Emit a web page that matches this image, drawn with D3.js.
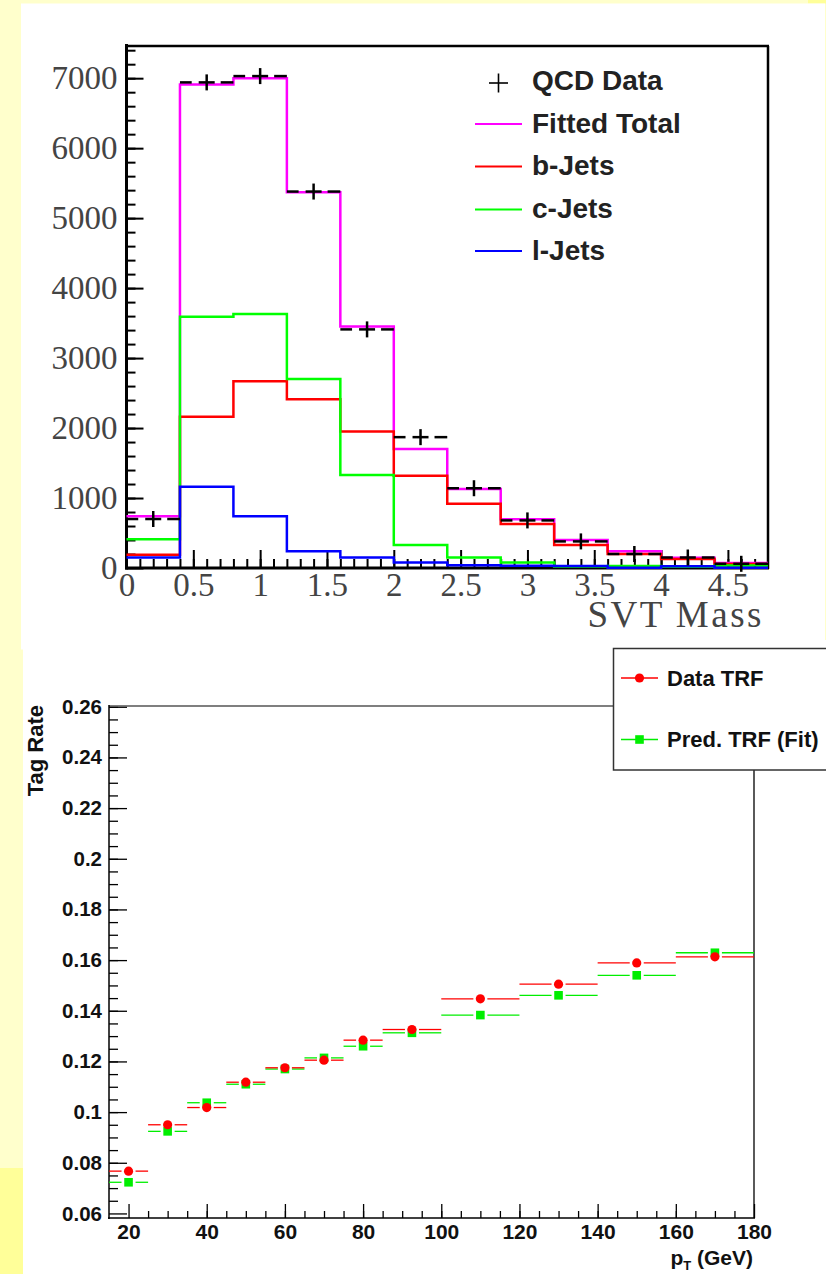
<!DOCTYPE html>
<html>
<head>
<meta charset="utf-8">
<script src="https://cdn.jsdelivr.net/npm/d3@7"></script>
<style>
body { margin: 0; background: #ffffcc; }
svg { display: block; }
</style>
</head>
<body>
<svg width="826" height="1274"></svg>
<script>
// ---- top: SVT mass template fit ----
var massEdges = [0, 0.4, 0.8, 1.2, 1.6, 2.0, 2.4, 2.8, 3.2, 3.6, 4.0, 4.4, 4.8];
var qcdData   = [700, 6940, 7030, 5380, 3410, 1870, 1140, 680, 380, 200, 150, 60];
var fitTotal  = [740, 6910, 7000, 5370, 3450, 1700, 1130, 695, 400, 238, 147, 71];
var bJets     = [190, 2160, 2670, 2410, 1950, 1320, 920, 630, 330, 200, 129, 57];
var cJets     = [410, 3590, 3630, 2700, 1330, 330, 150, 80, 20, 30, 18, 35];
var lJets     = [150, 1160, 740, 240, 150, 80, 40, 33, 30, 5, 25, 5];
var massTicks  = [0, 0.5, 1, 1.5, 2, 2.5, 3, 3.5, 4, 4.5];
var countTicks = [0, 1000, 2000, 3000, 4000, 5000, 6000, 7000];
var histLabels = ["Fitted Total", "b-Jets", "c-Jets", "l-Jets"];
var histColors = ["#ff00ff", "#ff0000", "#00ff00", "#0000ff"];

// ---- bottom: tag rate vs pT ----
var ptEdges   = [15, 25, 35, 45, 55, 65, 75, 85, 100, 120, 140, 160, 180];
var ptCenters = [20, 30, 40, 50, 60, 70, 80, 92.5, 110, 130, 150, 170];
var dataTRF   = [0.0767, 0.0950, 0.1018, 0.1118, 0.1175, 0.1205, 0.1284, 0.1326, 0.1447, 0.1505, 0.1589, 0.1613];
var predTRF   = [0.0723, 0.0924, 0.1037, 0.1110, 0.1170, 0.1214, 0.1260, 0.1313, 0.1383, 0.1461, 0.1540, 0.1629];
var ptTicks   = [20, 40, 60, 80, 100, 120, 140, 160, 180];
var rateTicks = [0.06, 0.08, 0.1, 0.12, 0.14, 0.16, 0.18, 0.2, 0.22, 0.24, 0.26];

var svg = d3.select("svg");
var plain = d3.format("");

// backgrounds
svg.append("rect").attr("width", 826).attr("height", 1274).attr("fill", "#ffffcc");
svg.append("rect").attr("x", 808).attr("y", 0).attr("width", 18).attr("height", 3.5).attr("fill", "#ffff99");
svg.append("rect").attr("x", 0).attr("y", 1168).attr("width", 23).attr("height", 106).attr("fill", "#ffff99");
svg.append("rect").attr("x", 21).attr("y", 3.5).attr("width", 804).attr("height", 646).attr("fill", "#fff");
svg.append("rect").attr("x", 23).attr("y", 640).attr("width", 803).attr("height", 634).attr("fill", "#fff");

// =================== top panel ===================
var x1 = d3.scaleLinear().domain([0, 4.8]).range([126.5, 768]);
var y1 = d3.scaleLinear().domain([0, 7460]).range([568, 46]);

var topG = svg.append("g").attr("class", "top");

function styleAxis(g, col, w) {
    g.select(".domain").remove();
    g.selectAll(".tick line").attr("stroke", col).attr("stroke-width", w);
}

var serif = "'Liberation Serif', 'DejaVu Serif', serif";

var xMinor1 = topG.append("g").attr("transform", "translate(0,568)")
    .call(d3.axisBottom(x1).tickValues(d3.range(1, 48).map(function(i) { return i / 10; }))
        .tickSize(-9).tickFormat(""));
styleAxis(xMinor1, "#000", 2);
var xAxis1 = topG.append("g").attr("transform", "translate(0,568)")
    .call(d3.axisBottom(x1).tickValues(massTicks).tickSize(-18).tickPadding(5).tickFormat(plain));
styleAxis(xAxis1, "#000", 2);
xAxis1.selectAll("text").attr("font-family", serif).attr("font-size", 33).attr("fill", "#444");

var yMinor1 = topG.append("g").attr("transform", "translate(126.5,0)")
    .call(d3.axisLeft(y1).tickValues(d3.range(200, 7460, 200)).tickSize(-9).tickFormat(""));
styleAxis(yMinor1, "#000", 2);
var yAxis1 = topG.append("g").attr("transform", "translate(126.5,0)")
    .call(d3.axisLeft(y1).tickValues(countTicks).tickSize(-17).tickPadding(9).tickFormat(plain));
styleAxis(yAxis1, "#000", 2);
yAxis1.selectAll("text").attr("font-family", serif).attr("font-size", 33).attr("fill", "#444");

// frame
topG.append("line").attr("x1", 126.5).attr("x2", 769).attr("y1", 46).attr("y2", 46)
    .attr("stroke", "#000").attr("stroke-width", 2.5);
topG.append("line").attr("x1", 768).attr("x2", 768).attr("y1", 46).attr("y2", 569)
    .attr("stroke", "#000").attr("stroke-width", 2.5);
topG.append("line").attr("x1", 126.5).attr("x2", 126.5).attr("y1", 44).attr("y2", 569.5)
    .attr("stroke", "#000").attr("stroke-width", 3);
topG.append("line").attr("x1", 125).attr("x2", 769).attr("y1", 568).attr("y2", 568)
    .attr("stroke", "#000").attr("stroke-width", 3);

// histograms
var step = d3.line().curve(d3.curveStepAfter)
    .x(function(d) { return x1(d[0]); })
    .y(function(d) { return y1(d[1]); });

[fitTotal, bJets, cJets, lJets].forEach(function(vals, k) {
    var pts = massEdges.map(function(e, i) { return [e, vals[Math.min(i, vals.length - 1)]]; });
    topG.append("path").attr("d", step(pts))
        .attr("fill", "none").attr("stroke", histColors[k]).attr("stroke-width", 2.5);
});

// data points
var dataG = topG.append("g").attr("stroke", "#000").attr("stroke-width", 2.5);
qcdData.forEach(function(v, i) {
    var xa = x1(massEdges[i]), xb = x1(massEdges[i + 1]);
    var cx = (xa + xb) / 2, cy = y1(v);
    dataG.append("line").attr("x1", xa).attr("x2", cx - 15).attr("y1", cy).attr("y2", cy);
    dataG.append("line").attr("x1", cx + 14).attr("x2", xb).attr("y1", cy).attr("y2", cy);
    dataG.append("line").attr("x1", cx - 8).attr("x2", cx + 8).attr("y1", cy).attr("y2", cy);
    dataG.append("line").attr("x1", cx).attr("x2", cx).attr("y1", cy - 8).attr("y2", cy + 8);
});

// legend
var sans = "'Liberation Sans', Arial, sans-serif";
var leg1 = topG.append("g").attr("font-family", sans).attr("font-weight", "bold")
    .attr("font-size", 28).attr("fill", "#222");
leg1.append("line").attr("x1", 489).attr("x2", 508).attr("y1", 83).attr("y2", 83)
    .attr("stroke", "#000").attr("stroke-width", 1.6);
leg1.append("line").attr("x1", 498.5).attr("x2", 498.5).attr("y1", 73.5).attr("y2", 92.5)
    .attr("stroke", "#000").attr("stroke-width", 1.6);
leg1.append("text").attr("x", 532).attr("y", 80).attr("dy", "0.35em").text("QCD Data");
var legRows = [124, 166.5, 209.5, 251];
histLabels.forEach(function(lab, k) {
    leg1.append("line").attr("x1", 475).attr("x2", 522).attr("y1", legRows[k]).attr("y2", legRows[k])
        .attr("stroke", histColors[k]).attr("stroke-width", 2);
    leg1.append("text").attr("x", 532).attr("y", legRows[k] - 1).attr("dy", "0.35em").text(lab);
});

topG.append("text").attr("x", 764).attr("y", 627).attr("text-anchor", "end")
    .attr("font-family", serif).attr("font-size", 37).attr("letter-spacing", 2.5)
    .attr("fill", "#444").text("SVT Mass");

// =================== bottom panel ===================
var x2 = d3.scaleLinear().domain([15, 180]).range([109, 754]);
var y2 = d3.scaleLinear().domain([0.0582, 0.2603]).range([1218, 706]);

var bot = svg.append("g").attr("class", "bottom");

var xMinor2 = bot.append("g").attr("transform", "translate(0,1218)")
    .call(d3.axisBottom(x2).tickValues(d3.range(25, 180, 5)).tickSize(-7).tickFormat(""));
styleAxis(xMinor2, "#000", 1.3);
var xAxis2 = bot.append("g").attr("transform", "translate(0,1218)")
    .call(d3.axisBottom(x2).tickValues(ptTicks).tickSize(-14).tickPadding(6).tickFormat(plain));
styleAxis(xAxis2, "#000", 1.3);
xAxis2.selectAll("text").attr("font-family", sans).attr("font-weight", "bold")
    .attr("font-size", 21).attr("fill", "#111");

var yMinor2 = bot.append("g").attr("transform", "translate(109,0)")
    .call(d3.axisLeft(y2).tickValues(d3.range(13, 53).map(function(i) { return i * 0.005; }))
        .tickSize(-9).tickFormat(""));
styleAxis(yMinor2, "#000", 1.3);
var yAxis2 = bot.append("g").attr("transform", "translate(109,0)")
    .call(d3.axisLeft(y2).tickValues(rateTicks).tickSize(-18).tickPadding(7).tickFormat(plain));
styleAxis(yAxis2, "#000", 1.3);
yAxis2.selectAll("text").attr("font-family", sans).attr("font-weight", "bold")
    .attr("font-size", 20.5).attr("fill", "#111");

// frame
bot.append("line").attr("x1", 109).attr("x2", 754).attr("y1", 706).attr("y2", 706)
    .attr("stroke", "#555").attr("stroke-width", 1.5);
bot.append("line").attr("x1", 754).attr("x2", 754).attr("y1", 706).attr("y2", 1218)
    .attr("stroke", "#000").attr("stroke-width", 1.3);
bot.append("line").attr("x1", 109).attr("x2", 109).attr("y1", 705).attr("y2", 1219)
    .attr("stroke", "#000").attr("stroke-width", 1.5);
bot.append("line").attr("x1", 108).attr("x2", 755).attr("y1", 1218).attr("y2", 1218)
    .attr("stroke", "#000").attr("stroke-width", 1.5);

// points: green (fit) under red (data)
function drawSeries(vals, col, shape) {
    var g = bot.append("g");
    vals.forEach(function(v, i) {
        var xa = x2(ptEdges[i]), xb = x2(ptEdges[i + 1]);
        var cx = x2(ptCenters[i]), cy = y2(v);
        g.append("line").attr("x1", xa).attr("x2", cx - 7).attr("y1", cy).attr("y2", cy)
            .attr("stroke", col).attr("stroke-width", 1.3);
        g.append("line").attr("x1", cx + 7).attr("x2", xb).attr("y1", cy).attr("y2", cy)
            .attr("stroke", col).attr("stroke-width", 1.3);
        if (shape === "circle") {
            g.append("circle").attr("cx", cx).attr("cy", cy).attr("r", 4.6).attr("fill", col);
        } else {
            g.append("rect").attr("x", cx - 4.3).attr("y", cy - 4.3)
                .attr("width", 8.6).attr("height", 8.6).attr("fill", col);
        }
    });
}
drawSeries(predTRF, "#00ee00", "square");
drawSeries(dataTRF, "#ff0000", "circle");

// axis titles
bot.append("text").attr("transform", "translate(43,705) rotate(-90)")
    .attr("text-anchor", "end").attr("font-family", sans).attr("font-weight", "bold")
    .attr("font-size", 22).attr("fill", "#111").text("Tag Rate");
var xt = bot.append("text").attr("x", 753).attr("y", 1265).attr("text-anchor", "end")
    .attr("font-family", sans).attr("font-weight", "bold").attr("font-size", 21).attr("fill", "#111");
xt.append("tspan").text("p");
xt.append("tspan").attr("font-size", 13).attr("dy", 5).text("T");
xt.append("tspan").attr("dy", -5).text(" (GeV)");

// legend box
var leg2 = bot.append("g");
leg2.append("rect").attr("x", 613.5).attr("y", 648.5).attr("width", 240).attr("height", 121.5)
    .attr("fill", "#fff").attr("stroke", "#333").attr("stroke-width", 1.5);
var leg2Items = [
    { label: "Data TRF", color: "#ff0000", shape: "circle", y: 678 },
    { label: "Pred. TRF (Fit)", color: "#00ee00", shape: "square", y: 739.5 }
];
leg2Items.forEach(function(d) {
    leg2.append("line").attr("x1", 621).attr("x2", 658).attr("y1", d.y).attr("y2", d.y)
        .attr("stroke", d.color).attr("stroke-width", 1.3);
    if (d.shape === "circle") {
        leg2.append("circle").attr("cx", 639.5).attr("cy", d.y).attr("r", 4.6).attr("fill", d.color);
    } else {
        leg2.append("rect").attr("x", 635.2).attr("y", d.y - 4.3).attr("width", 8.6).attr("height", 8.6)
            .attr("fill", d.color);
    }
    leg2.append("text").attr("x", 667).attr("y", d.y).attr("dy", "0.35em")
        .attr("font-family", sans).attr("font-weight", "bold").attr("font-size", 22)
        .attr("fill", "#111").text(d.label);
});
</script>
</body>
</html>
